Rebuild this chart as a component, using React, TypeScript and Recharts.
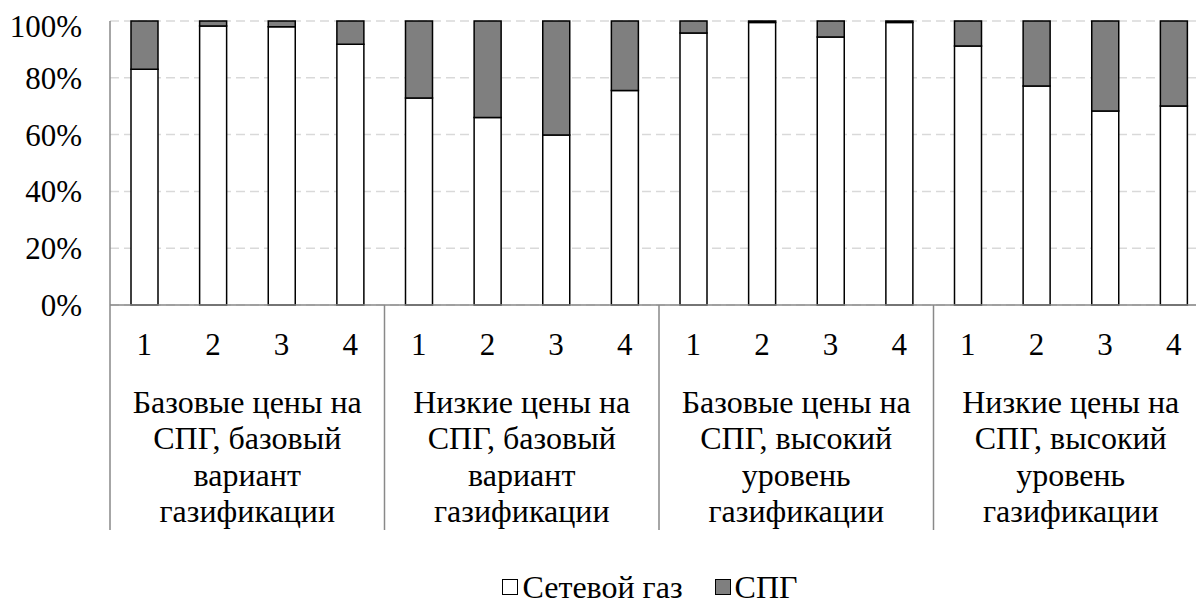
import React from "react"
import {
  BarChart,
  Bar,
  XAxis,
  YAxis,
  CartesianGrid,
  Legend,
} from "recharts"

const scenarioNums = ["1", "2", "3", "4"]

const groupLabels = [
  ["Базовые цены на", "СПГ, базовый", "вариант", "газификации"],
  ["Низкие цены на", "СПГ, базовый", "вариант", "газификации"],
  ["Базовые цены на", "СПГ, высокий", "уровень", "газификации"],
  ["Низкие цены на", "СПГ, высокий", "уровень", "газификации"],
]

// доли, %
const pipelineGas = [83.0, 98.2, 98.0, 91.8, 72.9, 66.0, 59.9, 75.5, 95.8, 99.5, 94.4, 99.5, 91.2, 77.1, 68.3, 70.1]
const lng = [17.0, 1.8, 2.0, 8.2, 27.1, 34.0, 40.1, 24.5, 4.2, 0.5, 5.6, 0.5, 8.8, 22.9, 31.7, 29.9]

const yTicks = [0, 20, 40, 60, 80, 100]

const FONT = "Liberation Serif, serif"
const AXIS_GRAY = "#898989"
const GRID_GRAY = "#d9d9d9"
const LNG_GRAY = "#7f7f7f"

const CHART_W = 1220
const CHART_H = 597
const PLOT_LEFT = 102
const PLOT_W = 1098
const PLOT_BOTTOM = 297
const GROUP_W = PLOT_W / groupLabels.length

const groupKeys = groupLabels.map((g) => g.join(" "))

const data = pipelineGas.map((v, i) => ({
  num: scenarioNums[i % 4],
  group: groupKeys[Math.floor(i / 4)],
  pipe: v,
  lng: lng[i],
}))

function GroupTick(props: any) {
  const { x, y, payload } = props
  const idx = groupKeys.indexOf(payload.value)
  const lines = groupLabels[idx] || []
  const left = x - GROUP_W / 2
  return (
    <g>
      <line x1={left} x2={left} y1={PLOT_BOTTOM} y2={522} stroke={AXIS_GRAY} strokeWidth={1.5} />
      {idx === groupLabels.length - 1 && (
        <line x1={x + GROUP_W / 2} x2={x + GROUP_W / 2} y1={PLOT_BOTTOM} y2={522} stroke={AXIS_GRAY} strokeWidth={1.5} />
      )}
      {lines.map((l, i) => (
        <text
          key={i}
          x={x}
          y={y + 58 + i * 36.3}
          textAnchor="middle"
          fontFamily={FONT}
          fontSize={32}
          fill="#000"
        >
          {l}
        </text>
      ))}
    </g>
  )
}

function LegendContent() {
  const item = (fill: string, label: string, gap: number) => (
    <span style={{ display: "inline-flex", alignItems: "center", marginRight: gap }}>
      <span
        style={{
          display: "inline-block",
          width: 14,
          height: 14,
          background: fill,
          border: "1.5px solid #000",
          marginRight: 4,
        }}
      />
      <span>{label}</span>
    </span>
  )
  return (
    <div
      style={{
        height: 34,
        display: "flex",
        alignItems: "center",
        justifyContent: "center",
        paddingLeft: 84,
        fontFamily: FONT,
        fontSize: 32,
        color: "#000",
        lineHeight: 1,
      }}
    >
      {item("#fff", "Сетевой газ", 32)}
      {item(LNG_GRAY, "СПГ", 0)}
    </div>
  )
}

export default function App() {
  return (
    <div style={{ width: 1196, height: CHART_H, overflow: "hidden" }}>
      <BarChart
        width={CHART_W}
        height={CHART_H}
        data={data}
        margin={{ top: 13, right: CHART_W - PLOT_LEFT - PLOT_W, bottom: 0, left: 0 }}
        barCategoryGap={0}
      >
        <CartesianGrid
          vertical={false}
          stroke={GRID_GRAY}
          strokeWidth={1.5}
          strokeDasharray="9 5"
        />
        <XAxis
          xAxisId="b"
          dataKey="group"
          allowDuplicatedCategory={false}
          height={216}
          tickLine={false}
          axisLine={false}
          tickSize={0}
          tickMargin={0}
          interval={0}
          tick={<GroupTick />}
        />
        <XAxis
          xAxisId="a"
          dataKey="num"
          height={50}
          tickLine={false}
          tickSize={0}
          tickMargin={28}
          axisLine={{ stroke: AXIS_GRAY, strokeWidth: 1.5 }}
          tick={{ fontFamily: FONT, fontSize: 31, fill: "#000" }}
          interval={0}
        />
        <YAxis
          width={PLOT_LEFT}
          domain={[0, 100]}
          ticks={yTicks}
          tickFormatter={(v) => `${v}%`}
          tickLine={false}
          tickSize={0}
          tickMargin={28}
          axisLine={{ stroke: AXIS_GRAY, strokeWidth: 1.5 }}
          tick={{ fontFamily: FONT, fontSize: 31, fill: "#000" }}
        />
        <Legend
          verticalAlign="bottom"
          wrapperStyle={{ top: 562 }}
          content={<LegendContent />}
        />
        <Bar
          xAxisId="a"
          dataKey="pipe"
          name="Сетевой газ"
          stackId="a"
          fill="#fff"
          stroke="#000"
          strokeWidth={1.5}
          barSize={27}
          isAnimationActive={false}
        />
        <Bar
          xAxisId="a"
          dataKey="lng"
          name="СПГ"
          stackId="a"
          fill={LNG_GRAY}
          stroke="#000"
          strokeWidth={1.5}
          barSize={27}
          isAnimationActive={false}
        />
      </BarChart>
    </div>
  )
}
